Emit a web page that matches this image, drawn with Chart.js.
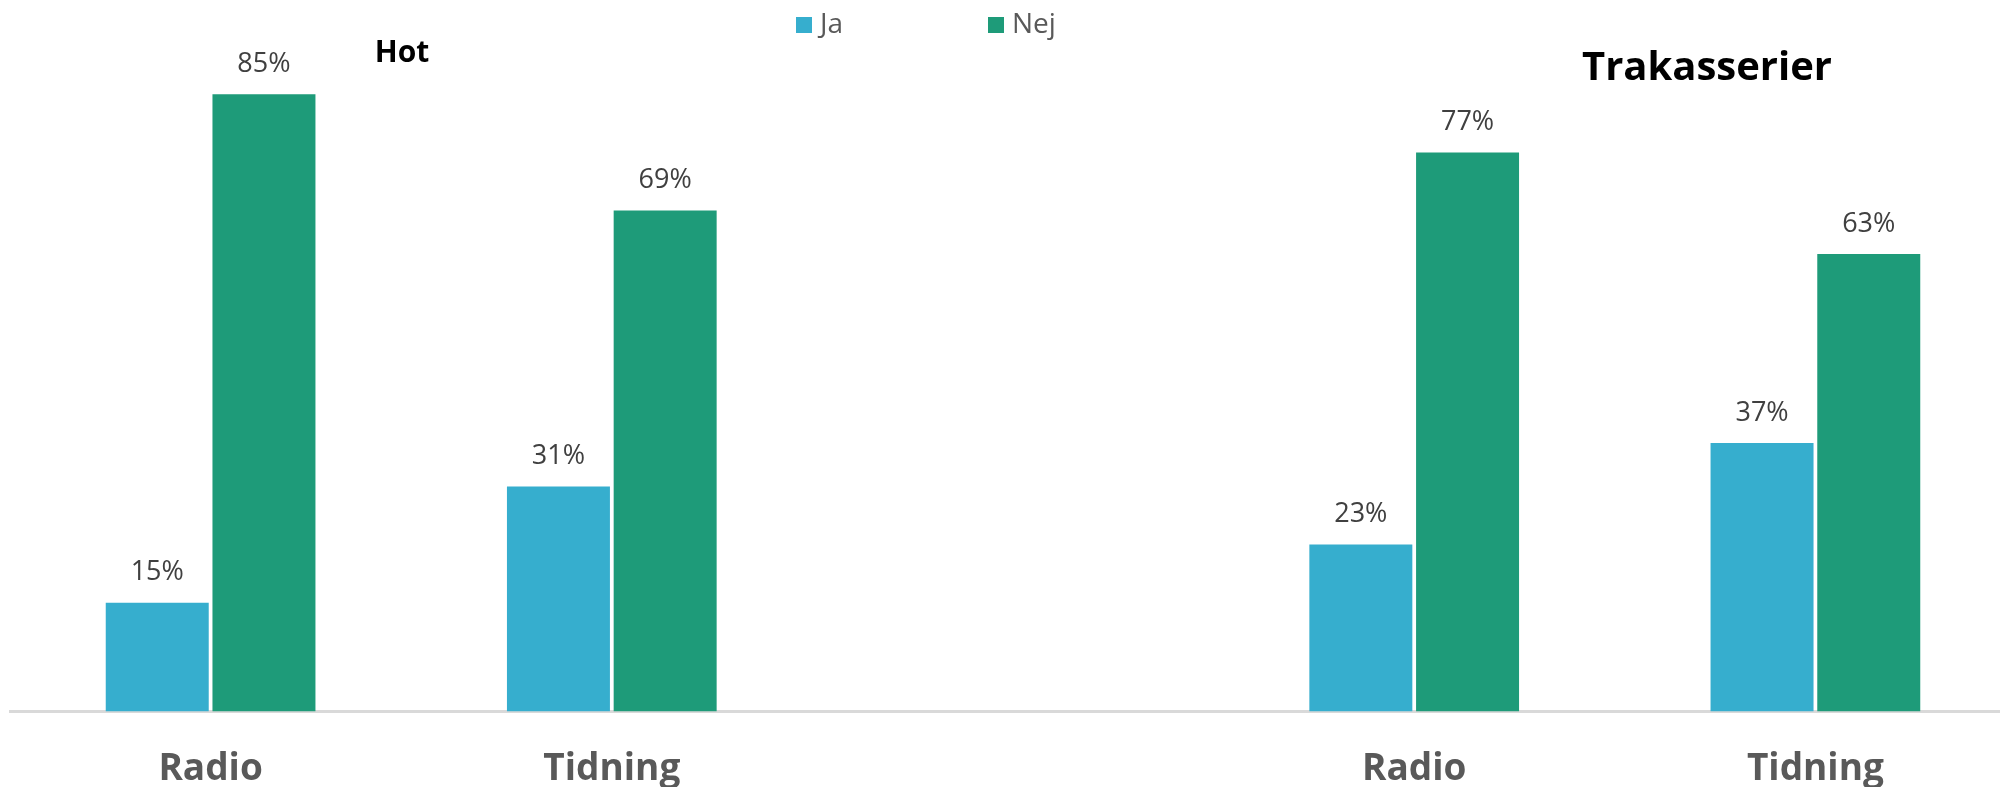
<!DOCTYPE html>
<html>
<head>
<meta charset="utf-8">
<script src="https://cdn.jsdelivr.net/npm/chart.js@4.4.1/dist/chart.umd.min.js"></script>
<style>
    html, body { margin: 0; padding: 0; background: #fff; overflow: hidden; }
    #wrap { width: 2016px; height: 820px; position: relative; }
</style>
</head>
<body>
<div id="wrap"><canvas id="canvas"></canvas></div>
<script>
const categories = ['Radio', 'Tidning', '', 'Radio', 'Tidning'];
const jaValues = [15, 31, null, 23, 37];
const nejValues = [85, 69, null, 77, 63];
const seriesNames = ['Ja', 'Nej'];
const panelTitles = ['Hot', 'Trakasserier'];

const FONT = "'Open Sans', 'Noto Sans', sans-serif";

// value labels above bars, legend and the two panel titles
const decorations = {
    id: 'decorations',
    afterDatasetsDraw(chart) {
        let ctx = chart.ctx;
        ctx.save();
        ctx.font = '27px ' + FONT;
        ctx.fillStyle = '#404040';
        ctx.textAlign = 'center';
        ctx.textBaseline = 'middle';
        chart.data.datasets.forEach(function (ds, i) {
            chart.getDatasetMeta(i).data.forEach(function (bar, j) {
                if (ds.data[j] === null) return;
                ctx.fillText(ds.data[j] + '%', bar.x, bar.y - 30);
            });
        });
        ctx.restore();
    },
    afterDraw(chart) {
        let ctx = chart.ctx;
        ctx.save();
        // legend
        let legendX = [796, 988];
        ctx.font = '28px ' + FONT;
        ctx.textBaseline = 'middle';
        ctx.textAlign = 'left';
        chart.data.datasets.forEach(function (ds, i) {
            ctx.fillStyle = ds.backgroundColor;
            ctx.fillRect(legendX[i], 17, 16, 16);
            ctx.fillStyle = '#595959';
            ctx.fillText(ds.label, legendX[i] + 24, 25);
        });
        // titles
        ctx.fillStyle = '#000';
        ctx.textAlign = 'center';
        ctx.font = 'bold 30px ' + FONT;
        ctx.fillText(panelTitles[0], 402, 53);
        ctx.font = 'bold 40px ' + FONT;
        ctx.fillText(panelTitles[1], 1707, 69);
        ctx.restore();
    }
};

let chart = new Chart(document.getElementById('canvas'), {
    type: 'bar',
    data: {
        labels: categories,
        datasets: [{
            label: seriesNames[0],
            data: jaValues,
            backgroundColor: '#36aece'
        }, {
            label: seriesNames[1],
            data: nejValues,
            backgroundColor: '#1e9b79'
        }]
    },
    options: {
        responsive: true,
        maintainAspectRatio: false,
        animation: false,
        datasets: {
            bar: {
                categoryPercentage: 0.532,
                barPercentage: 0.965
            }
        },
        layout: {
            padding: { top: 58, left: 10, right: 0, bottom: 0 }
        },
        plugins: {
            legend: { display: false },
            tooltip: { enabled: false }
        },
        scales: {
            x: {
                grid: { display: false },
                border: { display: true, color: '#d9d9d9', width: 3 },
                ticks: {
                    color: '#595959',
                    font: { family: FONT, size: 37, weight: 'bold' },
                    padding: 28
                }
            },
            y: {
                display: false,
                min: 0,
                max: 90
            }
        }
    },
    plugins: [decorations]
});
</script>
</body>
</html>
